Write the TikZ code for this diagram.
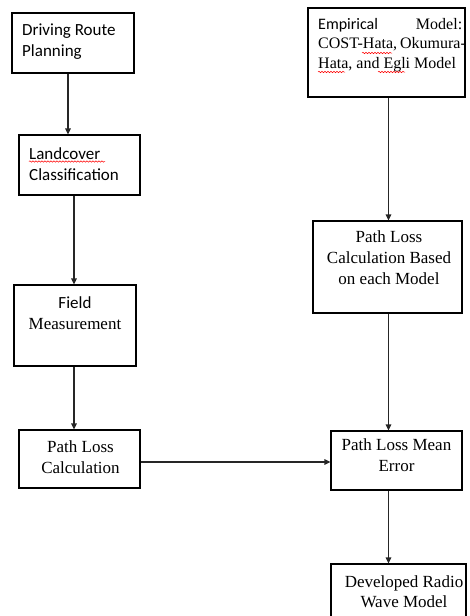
\documentclass[tikz,border=0pt]{standalone}
\usepackage{fontspec}
\setmainfont{Liberation Serif}
\newfontfamily\calib{Carlito}
\usetikzlibrary{arrows.meta,decorations.pathmorphing}
\newcommand{\fl}{\rule{0pt}{12.5pt}}
\begin{document}
\begin{tikzpicture}[x=1pt,y=-1pt,
  box/.style={draw=black,line width=1.1pt,inner sep=0pt,fill=white},
  conn/.style={draw=black!85,line width=1.1pt,-{Triangle[length=6pt,width=5.5pt]}},
  txt/.style={inner sep=0pt,anchor=north,align=center,font=\rmfamily\fontsize{17}{21}\selectfont},
  ltxt/.style={inner sep=0pt,anchor=north west,align=left,font=\calib\fontsize{17}{21}\selectfont},
  spell/.style={draw=red,line width=0.5pt,decorate,decoration={snake,amplitude=0.7pt,segment length=3pt}}]
\useasboundingbox (0,0) rectangle (469,616);
\clip (0,0) rectangle (469,616);
% boxes
\node[box,minimum width=122pt,minimum height=60pt] (b1) at (73,43) {};
\node[box,minimum width=121pt,minimum height=60pt] (b2) at (79.5,165) {};
\node[box,minimum width=122pt,minimum height=81pt] (b3) at (75,325.5) {};
\node[box,minimum width=121pt,minimum height=58pt] (b4) at (79.5,459) {};
\node[box,minimum width=157pt,minimum height=89pt] (b5) at (386.5,52.5) {};
\node[box,minimum width=149pt,minimum height=92pt] (b6) at (387.5,267) {};
\node[box,minimum width=131pt,minimum height=59pt] (b7) at (396.5,460.5) {};
\node[box,minimum width=135pt,minimum height=58pt] (b8) at (398.5,593) {};
% texts
\node[ltxt] (t1) at (22,22.5) {\fl Driving Route\\Planning};
\node[ltxt] (t2) at (29,146.5) {\fl Landcover\\Classification};
\node[txt] (t3) at (75,295.5) {\fl{\calib Field}\\\rmfamily Measurement};
\node[txt] (t4) at (80.5,439.5) {\fl\rmfamily Path Loss\\\rmfamily Calculation};
\node[inner sep=0pt,anchor=north west] (t5) at (318,17) {\parbox[t]{144pt}{\rmfamily\fontsize{16}{19.5}\selectfont\rule{0pt}{12pt}{\calib Empirical}\hfill Model:\\
\makebox[144pt][s]{COST-Hata, Okumura-}\\
Hata, and Egli Model}};
\node[txt] (t6) at (389,229.5) {\fl Path Loss\\Calculation Based\\on each Model};
\node[txt] (t7) at (396.5,437.5) {\fl Path Loss Mean\\Error};
\node[txt,font=\rmfamily\fontsize{17}{20}\selectfont] (t8) at (404,574.5) {\fl Developed Radio\\Wave Model};
% spell-check underlines
\draw[spell] (29,161.5) -- (105,161.5);
\draw[spell] (362,53) -- (392,53);
\draw[spell] (318,72) -- (345,72);
\draw[spell] (378,72) -- (405,72);
% connectors
\coordinate (xa) at (68,0);
\coordinate (xb) at (74,0);
\coordinate (xr) at (388.5,0);
\coordinate (yh) at (0,462);
\draw[conn] (b1.south -| xa) -- (b2.north -| xa);
\draw[conn] (b2.south -| xb) -- (b3.north -| xb);
\draw[conn] (b3.south -| xb) -- (b4.north -| xb);
\draw[conn] (b5.south -| xr) -- (b6.north -| xr);
\draw[conn] (b6.south -| xr) -- (b7.north -| xr);
\draw[conn] (b7.south -| xr) -- (b8.north -| xr);
\draw[conn] (b4.east |- yh) -- (b7.west |- yh);
\end{tikzpicture}
\end{document}
